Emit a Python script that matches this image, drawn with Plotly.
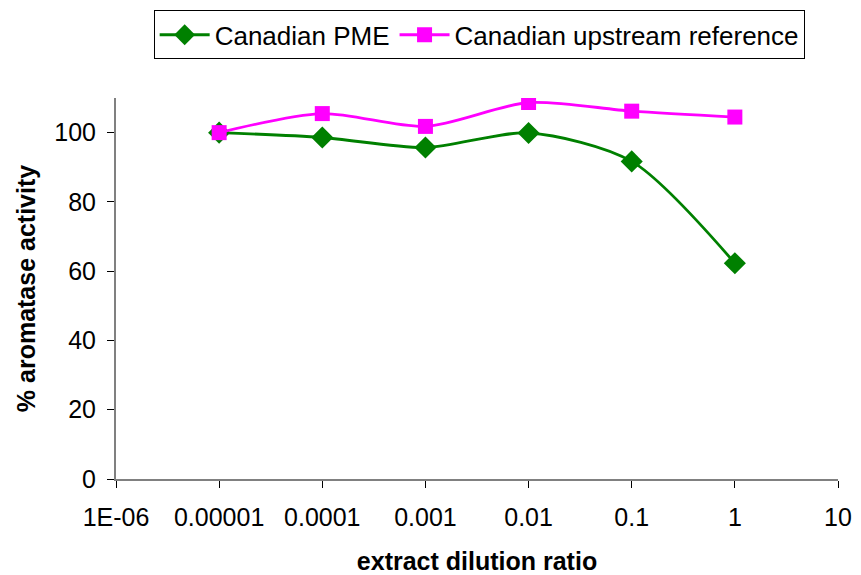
import plotly.graph_objects as go

# Extract dilution ratios (log scale) and aromatase activity (% of control)
dilution = [0.00001, 0.0001, 0.001, 0.01, 0.1, 1]
pme_activity = [100.0, 98.6, 95.7, 99.9, 91.7, 62.3]
upstream_activity = [100.0, 105.5, 101.8, 108.7, 106.2, 104.5]

x_tick_values = [1e-6, 1e-5, 1e-4, 1e-3, 1e-2, 1e-1, 1, 10]
x_tick_labels = ["1E-06", "0.00001", "0.0001", "0.001", "0.01", "0.1", "1", "10"]
y_tick_values = [0, 20, 40, 60, 80, 100]

font_family = "Liberation Sans, Arial, sans-serif"

fig = go.Figure()
fig.add_trace(go.Scatter(
    x=dilution, y=pme_activity, name="Canadian PME",
    mode="lines+markers", line=dict(color="#008000", width=2.8, shape="spline", smoothing=0.8),
    marker=dict(symbol="diamond", size=17, color="#008000"),
))
fig.add_trace(go.Scatter(
    x=dilution, y=upstream_activity, name="Canadian upstream reference",
    mode="lines+markers", line=dict(color="#FF00FF", width=2.8, shape="spline", smoothing=0.8),
    marker=dict(symbol="square", size=15, color="#FF00FF"),
))

fig.update_layout(
    width=861, height=575,
    margin=dict(l=116, r=23, t=98, b=96),
    paper_bgcolor="white", plot_bgcolor="white",
    font=dict(family=font_family, size=25, color="black"),
    showlegend=True,
    legend=dict(
        orientation="h", x=0.503, xanchor="center", y=0.982, yanchor="top",
        yref="container", xref="paper",
        bordercolor="black", borderwidth=1, font=dict(size=26),
        itemwidth=50, tracegroupgap=0,
    ),
    xaxis=dict(
        type="log", range=[-6, 1], automargin=False,
        tickmode="array", tickvals=x_tick_values, ticktext=x_tick_labels,
        showline=True, linecolor="#808080", linewidth=2,
        ticks="outside", ticklen=7, tickcolor="black", tickwidth=1,
        ticklabelstandoff=8,
        showgrid=False, zeroline=False,
        title=dict(text="<b>extract dilution ratio</b>", font=dict(size=25), standoff=22),
    ),
    yaxis=dict(
        range=[0, 110], tickmode="array", tickvals=y_tick_values, automargin=False,
        showline=True, linecolor="#808080", linewidth=2,
        ticks="outside", ticklen=7, tickcolor="black", tickwidth=1,
        ticklabelstandoff=6,
        showgrid=False, zeroline=False,
        title=dict(text="<b>% aromatase activity</b>", font=dict(size=25), standoff=12),
    ),
)

fig.write_html("out.html")
